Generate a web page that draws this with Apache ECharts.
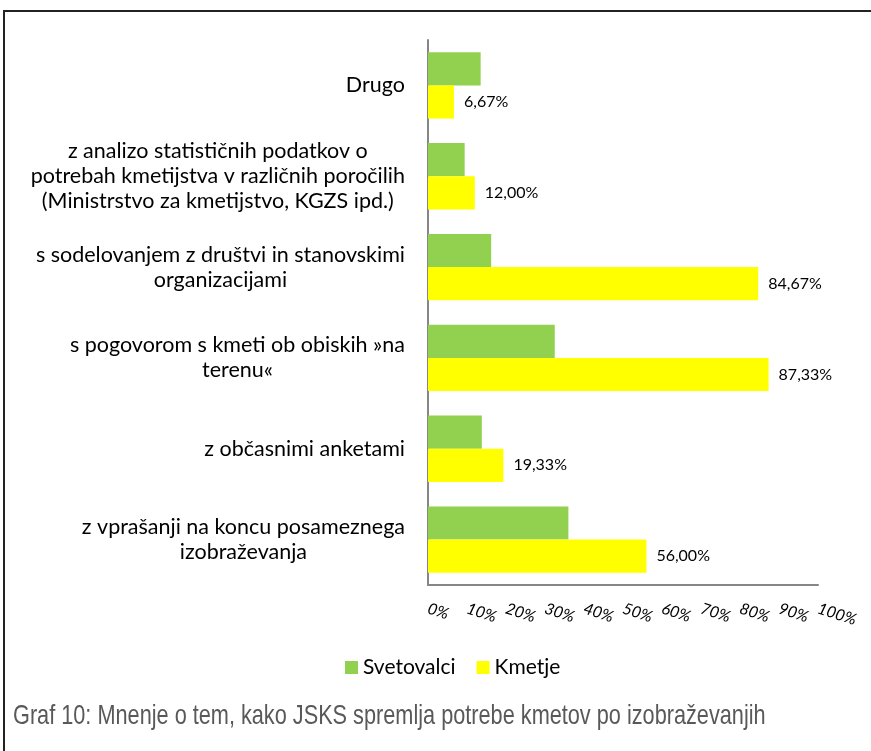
<!DOCTYPE html>
<html>
<head>
<meta charset="utf-8">
<script src="https://cdn.jsdelivr.net/npm/echarts@6/dist/echarts.min.js"></script>
<style>
  html, body { margin: 0; padding: 0; background: #fff; }
  #frame {
    position: absolute; left: 3px; top: 10px; width: 868px; height: 741px;
    border-left: 2px solid #222; border-top: 2px solid #222;
  }
  #chart { position: absolute; left: 0; top: 0; width: 871px; height: 751px; }
</style>
</head>
<body>
<div id="frame"></div>
<div id="chart"></div>
<script>
  // kategorije (od zgoraj navzdol)
  var categories = [
    'Drugo',
    'z analizo statističnih podatkov o\npotrebah kmetijstva v različnih poročilih\n(Ministrstvo za kmetijstvo, KGZS ipd.)',
    's sodelovanjem z društvi in stanovskimi\norganizacijami',
    's pogovorom s kmeti ob obiskih »na\nterenu«',
    'z občasnimi anketami',
    'z vprašanji na koncu posameznega\nizobraževanja'
  ];
  var svetovalci = [13.5, 9.4, 16.2, 32.5, 13.8, 36.0];
  var kmetje = [6.67, 12.00, 84.67, 87.33, 19.33, 56.00];
  var xTicks = [0, 10, 20, 30, 40, 50, 60, 70, 80, 90, 100];
  var caption = 'Graf 10: Mnenje o tem, kako JSKS spremlja potrebe kmetov po izobraževanjih';

  var font = 'Lato, "Open Sans", sans-serif';

  var chart = echarts.init(document.getElementById('chart'));
  chart.setOption({
    animation: false,
    color: ['#92D050', '#FFFF00'],
    // podnapis pod grafom (ozka pisava)
    graphic: [{
      type: 'text',
      x: 13,
      y: 716,
      scaleX: 0.775,
      style: {
        text: caption,
        fontFamily: '"Liberation Sans", Arial, sans-serif',
        fontSize: 28,
        fill: '#595959',
        verticalAlign: 'middle'
      }
    }],
    legend: {
      data: ['Svetovalci', 'Kmetje'],
      left: 340,
      top: 652,
      itemWidth: 13,
      itemHeight: 13,
      itemGap: 21,
      icon: 'rect',
      textStyle: { fontFamily: font, fontSize: 21, color: '#000' }
    },
    grid: { left: 428, right: 53, top: 40, bottom: 166, containLabel: false },
    xAxis: {
      type: 'value',
      min: 0,
      max: 100,
      interval: 10,
      axisLine: { show: true, lineStyle: { color: '#868686', width: 2 } },
      axisTick: { show: false },
      splitLine: { show: false },
      axisLabel: {
        rotate: -18,
        margin: 23,
        fontFamily: font,
        fontStyle: 'italic',
        fontSize: 16,
        color: '#000',
        formatter: function (v) { return xTicks.indexOf(v) >= 0 ? v + '%' : ''; }
      }
    },
    yAxis: {
      type: 'category',
      inverse: true,
      data: categories,
      axisLine: { show: true, lineStyle: { color: '#868686', width: 2 } },
      axisTick: { show: false },
      axisLabel: {
        margin: 23,
        color: '#000',
        formatter: function (v) {
          return v.split('\n').map(function (s) { return '{c|' + s + '}'; }).join('\n');
        },
        rich: {
          c: { align: 'center', fontFamily: font, fontSize: 21.5, lineHeight: 25, color: '#000' }
        }
      }
    },
    series: [
      {
        name: 'Svetovalci',
        type: 'bar',
        data: svetovalci,
        barGap: '0%',
        barCategoryGap: '27%'
      },
      {
        name: 'Kmetje',
        type: 'bar',
        data: kmetje,
        barGap: '0%',
        barCategoryGap: '27%',
        label: {
          show: true,
          position: 'right',
          distance: 10,
          fontFamily: font,
          fontSize: 16,
          color: '#000',
          formatter: function (p) { return p.value.toFixed(2).replace('.', ',') + '%'; }
        }
      }
    ]
  });
</script>
</body>
</html>
